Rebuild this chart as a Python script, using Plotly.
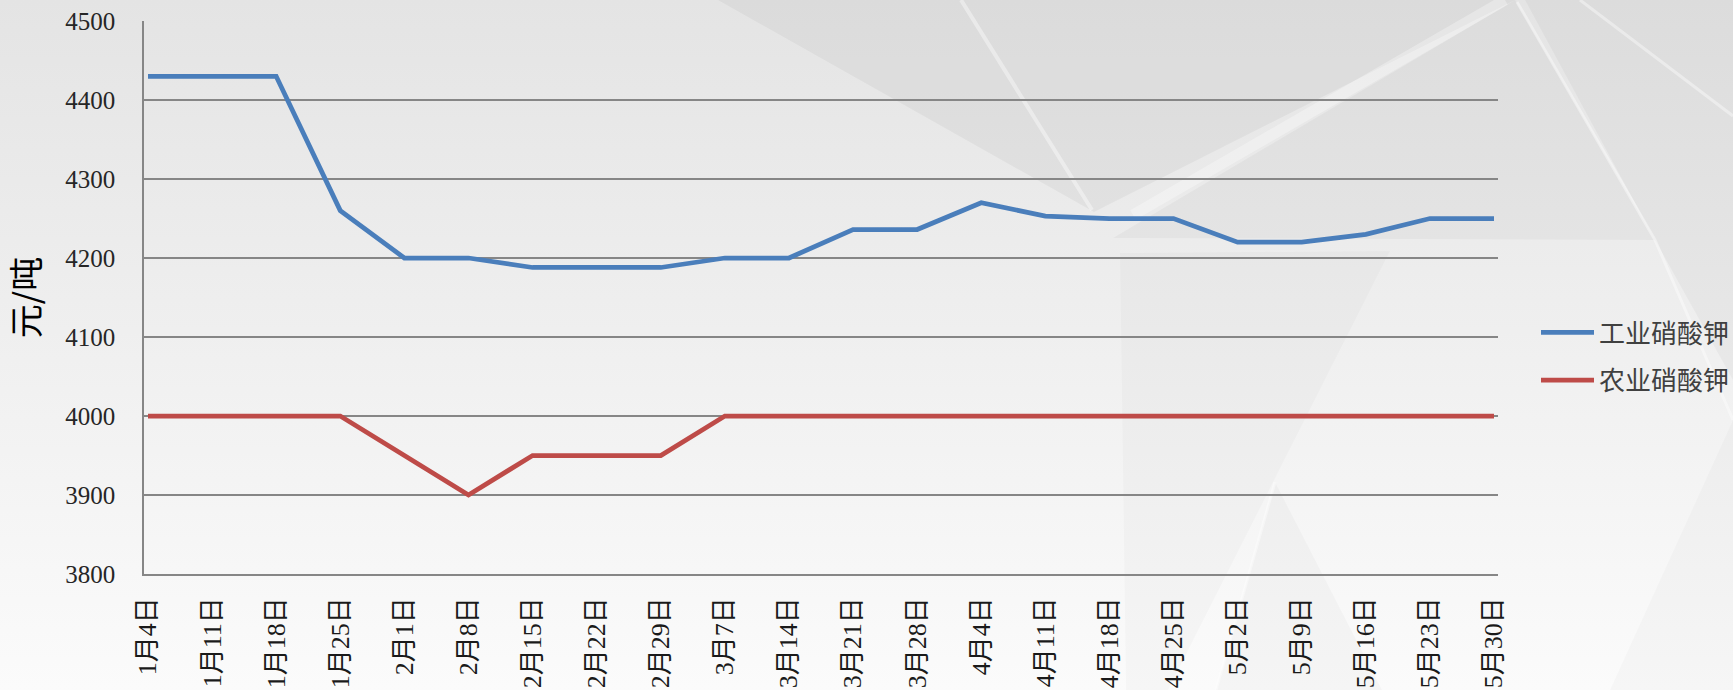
import base64
import plotly.graph_objects as go

# ---------------- data ----------------
dates = ["1月4日", "1月11日", "1月18日", "1月25日", "2月1日", "2月8日", "2月15日",
         "2月22日", "2月29日", "3月7日", "3月14日", "3月21日", "3月28日", "4月4日",
         "4月11日", "4月18日", "4月25日", "5月2日", "5月9日", "5月16日", "5月23日", "5月30日"]
industrial = [4430, 4430, 4430, 4260, 4200, 4200, 4188, 4188, 4188, 4200, 4200,
              4236, 4236, 4270, 4253, 4250, 4250, 4220, 4220, 4230, 4250, 4250]
agricultural = [4000, 4000, 4000, 4000, 3950, 3900, 3950, 3950, 3950, 4000, 4000,
                4000, 4000, 4000, 4000, 4000, 4000, 4000, 4000, 4000, 4000, 4000]
series_names = ["工业硝酸钾", "农业硝酸钾"]
y_ticks = [3800, 3900, 4000, 4100, 4200, 4300, 4400, 4500]
y_title = "元/吨"

# ---------------- layout constants ----------------
W, H = 1733, 690
ML, MR, MT, MB = 144, 235, 21, 116
PW, PH = W - ML - MR, H - MT - MB

# ---------------- decorative background (svg) ----------------
polys = [
    ("718,0 1515,0 1094,212", "rgba(0,0,0,0.04)"),
    ("1113,238 1515,0 1655,240", "rgba(0,0,0,0.03)"),
    ("1525,0 1733,0 1733,380 1655,240", "rgba(0,0,0,0.03)"),
    ("1120,253 1390,251 1168,690 1126,690", "rgba(0,0,0,0.02)"),
    ("1275,482 1216,690 1382,690", "rgba(0,0,0,0.025)"),
    ("1733,420 1733,690 1610,690", "rgba(0,0,0,0.02)"),
]
lines = [
    ("961,0 1092,210", 4, 0.4),
    ("1133,215 1505,0", 11, 0.3),
    ("1517,2 1655,240 1733,420", 3, 0.4),
    ("1580,0 1733,116", 3, 0.4),
    ("1216,690 1275,482", 3, 0.4),
]
svg = [f'<svg xmlns="http://www.w3.org/2000/svg" width="{W}" height="{H}" viewBox="0 0 {W} {H}" preserveAspectRatio="none">',
       '<defs><linearGradient id="g" x1="0" y1="0" x2="0" y2="1">'
       '<stop offset="0" stop-color="#e4e4e4"/><stop offset="1" stop-color="#fbfbfb"/>'
       '</linearGradient></defs>',
       f'<rect x="0" y="0" width="{W}" height="{H}" fill="url(#g)"/>']
for pts, col in polys:
    svg.append(f'<polygon points="{pts}" fill="{col}"/>')
for pts, w, op in lines:
    svg.append(f'<polyline points="{pts}" fill="none" stroke="rgba(255,255,255,{op})" stroke-width="{w}"/>')
svg.append('</svg>')
svg_uri = "data:image/svg+xml;base64," + base64.b64encode("".join(svg).encode()).decode()

# ---------------- figure ----------------
fig = go.Figure()
fig.add_trace(go.Scatter(x=dates, y=industrial, name=series_names[0], mode="lines",
                         line=dict(color="#4a7ebb", width=4.75), legendgroup="a"))
fig.add_trace(go.Scatter(x=dates, y=agricultural, name=series_names[1], mode="lines",
                         line=dict(color="#be4b48", width=4.75), legendgroup="b"))

step = (PW - 8) / (len(dates) - 1)
pad = 4 / step
fig.update_layout(
    width=W, height=H,
    margin=dict(l=ML, r=MR, t=MT, b=MB, autoexpand=False),
    paper_bgcolor="rgba(0,0,0,0)",
    plot_bgcolor="rgba(0,0,0,0)",
    images=[dict(source=svg_uri, xref="paper", yref="paper",
                 x=-ML / PW, y=1 + MT / PH, sizex=W / PW, sizey=H / PH,
                 xanchor="left", yanchor="top", sizing="stretch", layer="below")],
    showlegend=True,
    legend=dict(
        xref="container", yref="container", x=1536 / W, y=1 - 309 / H,
        xanchor="left", yanchor="top",
        font=dict(family="Noto Sans CJK SC", size=26, color="#404040"),
        bgcolor="rgba(0,0,0,0)", itemwidth=53, tracegroupgap=11,
        traceorder="grouped",
    ),
    xaxis=dict(
        type="category", categoryorder="array", categoryarray=dates,
        range=[-pad, len(dates) - 1 + pad],
        showgrid=False, zeroline=False,
        showline=True, linecolor="#868686", linewidth=1.5,
        ticks="", tickangle=-90, ticklabelstandoff=11,
        tickfont=dict(family="Liberation Serif, Noto Sans CJK SC", size=26, color="#1a1a1a"),
    ),
    yaxis=dict(
        range=[3800, 4500], tickvals=y_ticks,
        showgrid=True, gridcolor="#868686", gridwidth=1.5,
        zeroline=False, showline=True, linecolor="#868686", linewidth=1.5,
        ticks="", ticklabelstandoff=22,
        tickfont=dict(family="Liberation Serif", size=25, color="#262626"),
        title=dict(text=y_title, standoff=22,
                   font=dict(family="Noto Sans CJK SC", size=34, color="#000000")),
    ),
)

fig.write_html("out.html", config={"displayModeBar": False},
               post_script="document.body.style.margin='0';")
